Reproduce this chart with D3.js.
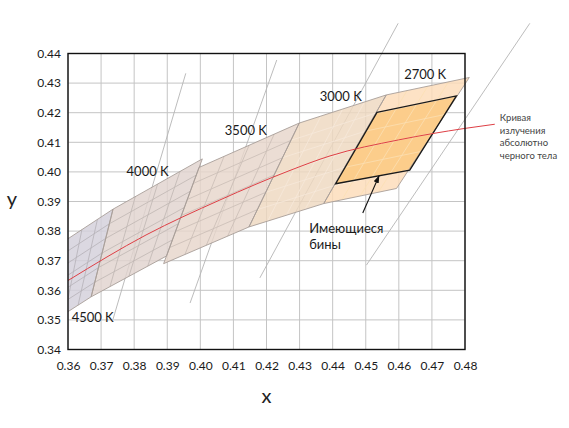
<!DOCTYPE html>
<meta charset="utf-8">
<style>
    body { margin: 0; background: #fff; }
    svg text { font-family: Lato, "Open Sans", "DejaVu Sans", sans-serif; }
</style>

<script src="https://d3js.org/d3.v7.min.js"></script>

<svg id="chart" width="569" height="428"></svg>
<script>

// axis ticks
var xTicks = [0.36, 0.37, 0.38, 0.39, 0.40, 0.41, 0.42, 0.43, 0.44, 0.45, 0.46, 0.47, 0.48];
var yTicks = [0.34, 0.35, 0.36, 0.37, 0.38, 0.39, 0.40, 0.41, 0.42, 0.43, 0.44];

// ANSI bins, corners: top-left, top-right, bottom-right, bottom-left
var binNames = ["4500 K", "4000 K", "3500 K", "3000 K", "2700 K"];
var binCorners = [
    [[0.3548, 0.3736], [0.3736, 0.3874], [0.3670, 0.3578], [0.3512, 0.3465]],
    [[0.3736, 0.3874], [0.4006, 0.4044], [0.3898, 0.3716], [0.3670, 0.3578]],
    [[0.3996, 0.4015], [0.4299, 0.4165], [0.4147, 0.3814], [0.3889, 0.3690]],
    [[0.4299, 0.4165], [0.4562, 0.4260], [0.4373, 0.3893], [0.4147, 0.3814]],
    [[0.4562, 0.4260], [0.4813, 0.4319], [0.4593, 0.3944], [0.4373, 0.3893]]
];

// the bins we have (inside 2700 K)
var availableBin = [[0.4534, 0.4201], [0.4774, 0.4257], [0.4633, 0.4006], [0.4409, 0.3960]];

// black body curve
var locusX = [0.3600, 0.3836, 0.4059, 0.4271, 0.4392, 0.4599, 0.4800, 0.4890];
var locusY = [0.3633, 0.3787, 0.3905, 0.4005, 0.4054, 0.4108, 0.4147, 0.4161];

// isotemperature lines (start, end)
var isoLines = [
    [[0.3736, 0.3502], [0.3956, 0.4333]],
    [[0.3969, 0.3557], [0.4231, 0.4378]],
    [[0.4180, 0.3642], [0.4598, 0.4502]],
    [[0.4502, 0.3685], [0.4996, 0.4502]]
];

var locusLabel = ["Кривая", "излучения", "абсолютно", "черного тела"];
var binsLabel = ["Имеющиеся", "бины"];

// styles
var binFills = ["#d3d0da", "#e0d3ce", "#e6d5ca", "#eed8bf", "#fcdcb8"];
var binLines = ["#b5b1b8", "#bfb6b2", "#c9bdb5", "#f6e8da", "#fff0df"];

var svg = d3.select("#chart");
var margin = {left: 68, right: 104, top: 53.5, bottom: 78.5};
var width = 569 - margin.left - margin.right,
    height = 428 - margin.top - margin.bottom;

var x = d3.scaleLinear().domain([0.36, 0.48]).range([0, width]);
var y = d3.scaleLinear().domain([0.34, 0.44]).range([height, 0]);

var g = svg.append("g").attr("transform", "translate(" + margin.left + "," + margin.top + ")");

// clip only on the left side, the 2700 K tip sticks out on the right
g.append("clipPath").attr("id", "clip")
    .append("rect").attr("x", 0).attr("y", -60).attr("width", width + 60).attr("height", height + 60);

// grid
g.append("g").selectAll("line").data(xTicks).enter().append("line")
    .attr("x1", function(d) { return x(d); }).attr("x2", function(d) { return x(d); })
    .attr("y1", 0).attr("y2", height)
    .attr("stroke", "#c4c4c4").attr("stroke-width", 1);
g.append("g").selectAll("line").data(yTicks).enter().append("line")
    .attr("y1", function(d) { return y(d); }).attr("y2", function(d) { return y(d); })
    .attr("x1", 0).attr("x2", width)
    .attr("stroke", "#c4c4c4").attr("stroke-width", 1);

// isotemperature lines
g.append("g").selectAll("line").data(isoLines).enter().append("line")
    .attr("x1", function(d) { return x(d[0][0]); }).attr("y1", function(d) { return y(d[0][1]); })
    .attr("x2", function(d) { return x(d[1][0]); }).attr("y2", function(d) { return y(d[1][1]); })
    .attr("stroke", "#b4b4b4").attr("stroke-width", 0.9);

function lerp(a, b, t) { return [a[0] + (b[0] - a[0]) * t, a[1] + (b[1] - a[1]) * t]; }
function poly(c) { return c.map(function(p) { return x(p[0]) + "," + y(p[1]); }).join(" "); }

var bins = g.append("g").attr("clip-path", "url(#clip)");

// bin fills
bins.selectAll("polygon.bin").data(binCorners).enter().append("polygon")
    .attr("class", "bin")
    .attr("points", poly)
    .attr("fill", function(d, i) { return binFills[i]; })
    .attr("fill-opacity", 0.82);

// available bins
bins.append("polygon").attr("points", poly(availableBin)).attr("fill", "#fccd8b");

// sub-bin lines: 4 columns x 6 rows in every bin
binCorners.forEach(function(c, i) {
    var segs = [];
    [1, 2, 3].forEach(function(k) { segs.push([lerp(c[0], c[1], k / 4), lerp(c[3], c[2], k / 4)]); });
    [1, 2, 3, 4, 5].forEach(function(k) { segs.push([lerp(c[3], c[0], k / 6), lerp(c[2], c[1], k / 6)]); });
    bins.append("g").selectAll("line").data(segs).enter().append("line")
        .attr("x1", function(d) { return x(d[0][0]); }).attr("y1", function(d) { return y(d[0][1]); })
        .attr("x2", function(d) { return x(d[1][0]); }).attr("y2", function(d) { return y(d[1][1]); })
        .attr("stroke", function(d, j) { return i == 4 && (j < 3 || (j > 3 && j < 7)) ? "#fbe0b4" : binLines[i]; })
        .attr("stroke-width", 0.8);
});

// bin outlines
bins.selectAll("polygon.edge").data(binCorners).enter().append("polygon")
    .attr("class", "edge")
    .attr("points", poly)
    .attr("fill", "none")
    .attr("stroke", "#a89e99").attr("stroke-width", 0.9);

bins.append("polygon").attr("points", poly(availableBin))
    .attr("fill", "none").attr("stroke", "#1a1a1a").attr("stroke-width", 1.3);

// black body curve
var locus = locusX.map(function(d, i) { return [d, locusY[i]]; });
g.append("path").datum(locus)
    .attr("fill", "none").attr("stroke", "#de3f45").attr("stroke-width", 1)
    .attr("d", d3.line().x(function(d) { return x(d[0]); }).y(function(d) { return y(d[1]); }).curve(d3.curveMonotoneX));

// frame
g.append("rect").attr("width", width).attr("height", height)
    .attr("fill", "none").attr("stroke", "#111").attr("stroke-width", 1.4);

// axes
var xAxis = g.append("g").attr("transform", "translate(0," + height + ")")
    .call(d3.axisBottom(x).tickValues(xTicks).tickFormat(d3.format(".2f")).tickSize(0).tickPadding(12));
var yAxis = g.append("g")
    .call(d3.axisLeft(y).tickValues(yTicks).tickFormat(d3.format(".2f")).tickSize(0).tickPadding(7));
[xAxis, yAxis].forEach(function(a) {
    a.select(".domain").remove();
    a.selectAll("text").attr("font-size", 12).attr("fill", "#1a1a1a")
        .style("font-family", "Lato, 'Open Sans', sans-serif");
});

g.append("text").attr("x", x(0.42)).attr("y", height + 53)
    .attr("text-anchor", "middle").attr("font-size", 20).attr("fill", "#222").text("x");
g.append("text").attr("x", -56).attr("y", y(0.392) + 10)
    .attr("text-anchor", "middle").attr("font-size", 20).attr("fill", "#222").text("y");

// bin labels
var labelAt = [[0.3611, 0.3509], [0.3777, 0.4003], [0.4074, 0.4142], [0.4361, 0.4256], [0.4616, 0.4330]];
g.append("g").selectAll("text").data(binNames).enter().append("text")
    .attr("x", function(d, i) { return x(labelAt[i][0]); })
    .attr("y", function(d, i) { return y(labelAt[i][1]); })
    .attr("dy", "0.36em")
    .attr("font-size", 13).attr("fill", "#1a1a1a")
    .text(function(d) { return d; });

// "available bins" label with arrow
svg.append("defs").append("marker").attr("id", "arrow")
    .attr("viewBox", "0 0 10 10").attr("refX", 9).attr("refY", 5)
    .attr("markerWidth", 7).attr("markerHeight", 7).attr("orient", "auto")
    .append("path").attr("d", "M0,1.5L10,5L0,8.5z").attr("fill", "#111");
g.append("line")
    .attr("x1", x(0.4491)).attr("y1", y(0.3861))
    .attr("x2", x(0.4540)).attr("y2", y(0.3986))
    .attr("stroke", "#111").attr("stroke-width", 1.1).attr("marker-end", "url(#arrow)");
g.append("g").selectAll("text").data(binsLabel).enter().append("text")
    .attr("x", x(0.4329))
    .attr("y", function(d, i) { return y(0.3809) + i * 16; })
    .attr("dy", "0.36em")
    .attr("font-size", 13).attr("fill", "#1a1a1a")
    .text(function(d) { return d; });

// black body label
var lastPt = locus[locus.length - 1];
g.append("g").selectAll("text").data(locusLabel).enter().append("text")
    .attr("x", x(lastPt[0]) + 5)
    .attr("y", function(d, i) { return y(lastPt[1]) - 7 + i * 12.9; })
    .attr("dy", "0.36em")
    .attr("font-size", 9.5).attr("fill", "#444")
    .text(function(d) { return d; });

</script>
